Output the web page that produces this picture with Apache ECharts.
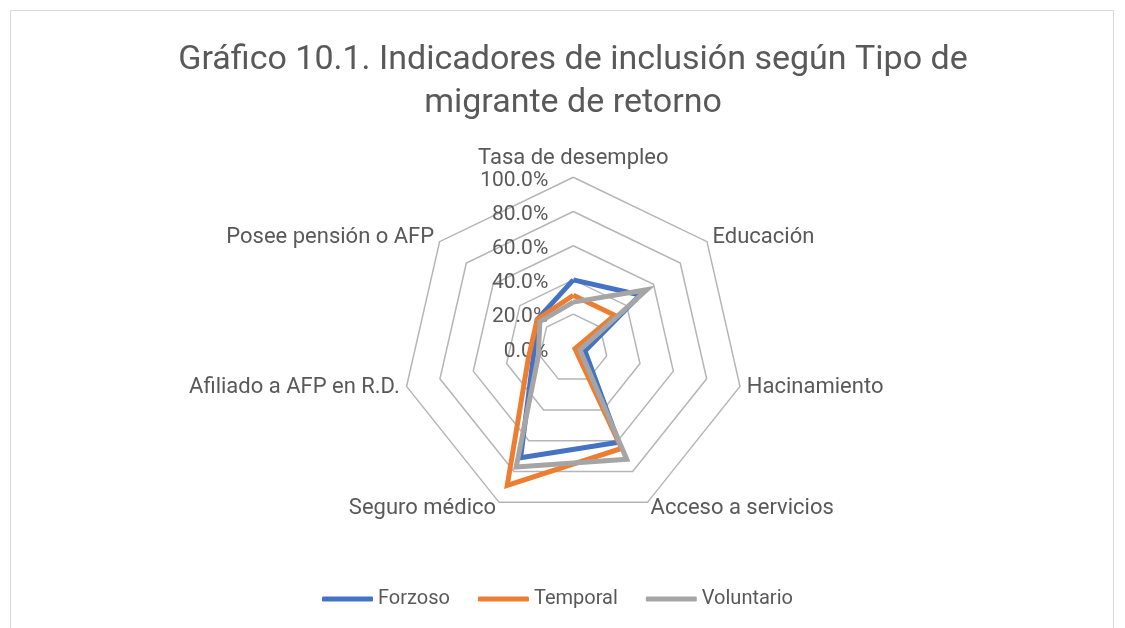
<!DOCTYPE html>
<html>
<head>
<meta charset="utf-8">
<script src="https://cdn.jsdelivr.net/npm/echarts@6/dist/echarts.min.js"></script>
<style>
  html, body { margin: 0; padding: 0; background: #fff; }
  #frame {
    position: absolute; left: 10px; top: 10px; width: 1104px; height: 640px;
    border: 1px solid #d9d9d9; box-sizing: border-box;
  }
  #chart { position: absolute; left: 0; top: 0; width: 1125px; height: 628px; }
</style>
</head>
<body>
<div id="frame"></div>
<div id="chart"></div>
<script>
// ejes del radar, en el orden de Excel (sentido horario desde arriba)
var indicadores = ['Tasa de desempleo', 'Educación', 'Hacinamiento', 'Acceso a servicios',
  'Seguro médico', 'Afiliado a AFP en R.D.', 'Posee pensión o AFP'];
var tipos = ['Forzoso', 'Temporal', 'Voluntario'];
var forzoso = [0.40, 0.50, 0.07, 0.61, 0.71, 0.24, 0.27];
var temporal = [0.31, 0.31, 0.01, 0.65, 0.89, 0.27, 0.27];
var voluntario = [0.27, 0.55, 0.04, 0.72, 0.77, 0.21, 0.25];
var colores = ['#4472C4', '#ED7D31', '#A5A5A5'];

var FONT = 'Roboto, "Noto Sans", sans-serif';
var GRIS = '#595959';

// ECharts dibuja el radar en sentido antihorario: se invierte el orden
var orden = [0, 6, 5, 4, 3, 2, 1];
function reordenar(arr) {
  return orden.map(function (i) { return arr[i]; });
}

var indicator = reordenar(indicadores).map(function (n, k) {
  var ind = { name: n, min: 0, max: 1 };
  // solo el eje de arriba lleva las etiquetas de porcentaje
  if (k === 0) ind.axisLabel = { show: true };
  return ind;
});

var chart = echarts.init(document.getElementById('chart'));
chart.setOption({
  animation: false,
  color: colores,
  title: {
    text: 'Gráfico 10.1. Indicadores de inclusión según Tipo de\nmigrante de retorno',
    left: 568,
    textAlign: 'center',
    top: 34,
    textStyle: { fontFamily: FONT, fontSize: 34, fontWeight: 'normal', color: GRIS, lineHeight: 43 }
  },
  legend: {
    top: 589,
    left: 322,
    padding: 0,
    itemWidth: 51,
    itemHeight: 5,
    itemGap: 28,
    icon: 'roundRect',
    data: tipos,
    textStyle: { fontFamily: FONT, fontSize: 20, color: GRIS }
  },
  radar: {
    center: [573.3, 348.3],
    radius: 171,
    startAngle: 90,
    shape: 'polygon',
    splitNumber: 5,
    nameGap: 7,
    axisName: { fontFamily: FONT, fontSize: 22, color: GRIS },
    axisLine: { show: false },
    axisTick: { show: false },
    axisLabel: {
      show: false,
      margin: 25,
      fontFamily: FONT,
      fontSize: 21,
      color: GRIS,
      formatter: function (v) { return '{p|' + (v * 100).toFixed(1) + '%}'; },
      rich: { p: { padding: [6, 0, 0, 0], fontFamily: FONT, fontSize: 21, color: GRIS } }
    },
    splitLine: { lineStyle: { color: '#B5B5B5', width: 1.5 } },
    splitArea: { show: false },
    indicator: indicator
  },
  series: [forzoso, temporal, voluntario].map(function (vals, i) {
    return {
      name: tipos[i],
      type: 'radar',
      symbol: 'none',
      lineStyle: { width: 5, color: colores[i], join: 'miter' },
      data: [{ name: tipos[i], value: reordenar(vals) }]
    };
  })
});
</script>
</body>
</html>
